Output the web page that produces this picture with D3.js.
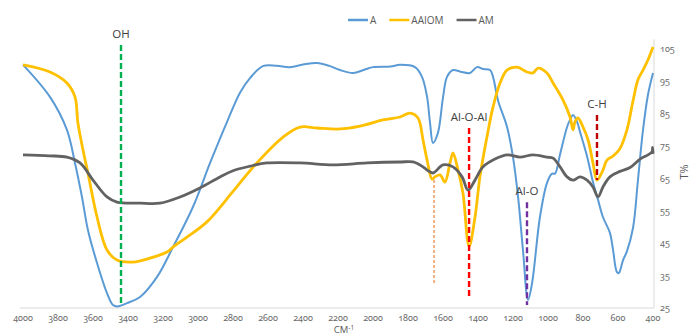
<!DOCTYPE html>
<html>
<head>
<meta charset="utf-8">
<script src="https://cdn.jsdelivr.net/npm/d3@7"></script>
<style>
  body { margin: 0; background: #fff; overflow: hidden; }
  svg { display: block; font-family: "Open Sans", "Liberation Sans", sans-serif; }
  .tick-label { fill: #6b6b6b; font-size: 9px; font-family: "Noto Sans", sans-serif; font-variant-numeric: oldstyle-nums; }
</style>
</head>
<body>
<script>
// spectra: [wavenumber, T%]
var seriesNames = ["A", "AAIOM", "AM"];
var seriesColors = ["#5B9BD5", "#FFC000", "#626262"];

var specA = [
  [4000,100.1],[3846,90.2],[3749,80.0],[3703,69.8],[3663,59.3],[3629,49.1],[3577,38.9],
  [3520,29.6],[3486,25.9],[3460,25.5],[3406,26.5],[3331,28.4],[3234,34.6],[3143,43.8],
  [3029,56.2],[2931,69.8],[2834,82.5],[2760,91.5],[2703,96.0],[2629,99.7],[2550,99.8],
  [2474,99.4],[2400,100.2],[2320,100.7],[2250,99.8],[2189,98.5],[2114,97.6],[2050,98.6],
  [2000,99.4],[1900,99.6],[1846,100.1],[1760,99.4],[1720,96.4],[1691,90.2],[1674,82.1],
  [1657,76.0],[1629,79.1],[1600,90.0],[1577,96.4],[1543,98.5],[1500,98.0],[1446,97.6],
  [1406,99.4],[1370,98.8],[1331,98.5],[1314,96.4],[1286,89.2],[1234,80.9],[1200,71.6],
  [1171,59.3],[1143,42.9],[1114,27.5],[1091,32.7],[1046,53.1],[1006,63.6],[977,66.5],
  [960,66.5],[931,72.5],[891,80.9],[874,83.1],[857,84.6],[834,82.5],[817,79.4],[777,71.9],
  [743,63.9],[714,58.4],[686,53.1],[646,48.2],[629,43.2],[606,36.1],[595,35.8],[571,39.8],
  [549,42.5],[514,49.8],[486,64.5],[457,80.0],[429,90.8],[400,97.6]
];

var specAAIOM = [
  [4000,100.1],[3846,97.9],[3749,94.5],[3703,90.2],[3686,82.1],[3657,73.8],[3629,66.7],
  [3577,53.1],[3520,42.9],[3463,39.8],[3371,39.2],[3274,40.4],[3177,42.3],[3143,43.8],
  [3063,46.9],[2949,51.6],[2800,61.0],[2674,69.2],[2514,77.8],[2417,80.9],[2320,80.6],
  [2189,80.3],[2074,81.2],[1943,83.1],[1846,84.0],[1789,85.2],[1743,83.7],[1714,76.9],
  [1691,70.7],[1663,64.8],[1646,65.5],[1617,66.1],[1589,63.9],[1560,69.8],[1543,72.9],
  [1514,67.6],[1486,60.5],[1451,44.0],[1417,53.1],[1389,65.5],[1349,77.8],[1314,87.1],
  [1274,94.5],[1234,98.5],[1177,99.4],[1120,97.9],[1086,97.6],[1057,99.1],[1006,97.6],
  [971,94.5],[914,89.2],[874,84.0],[857,80.0],[846,82.5],[829,83.7],[800,80.9],[771,76.9],
  [743,69.8],[720,64.5],[686,67.6],[663,70.7],[629,71.9],[589,74.2],[549,80.0],[514,89.0],
  [486,95.5],[457,98.5],[429,101.6],[400,105.6]
];

var specAM = [
  [4000,72.3],[3850,72.0],[3749,71.6],[3674,69.8],[3600,64.5],[3520,59.3],[3463,57.7],
  [3331,57.4],[3217,57.4],[3103,59.3],[2989,62.1],[2874,65.5],[2800,67.4],[2703,68.8],
  [2606,69.8],[2417,69.8],[2229,69.2],[2034,69.8],[1846,70.1],[1771,70.1],[1714,68.6],
  [1691,67.6],[1657,66.7],[1600,69.2],[1543,68.6],[1491,65.5],[1457,61.4],[1417,64.5],
  [1371,68.6],[1291,71.3],[1234,72.3],[1160,71.6],[1086,72.3],[1006,71.6],[971,71.3],
  [931,68.6],[891,65.5],[857,64.5],[817,65.5],[777,64.5],[743,62.4],[714,59.3],[686,62.4],
  [646,65.5],[589,67.2],[531,68.4],[474,71.0],[429,72.3],[406,73.2],[402,74.6],[400,72.6]
];

var xTicks = [4000,3800,3600,3400,3200,3000,2800,2600,2400,2200,2000,1800,1600,1400,1200,1000,800,600,400];
var yTicks = [25,35,45,55,65,75,85,95,105];

// band markers: label, wavenumber, top T%, bottom T%, colour, dash
var markLabels = ["OH", "", "Al-O-Al", "Al-O", "C-H"];
var markWaves  = [3440, 1651, 1451, 1120, 720];
var markTops   = [106.2, 64.5, 80.6, 57.7, 84.6];
var markBottoms = [26.5, 32.7, 28.4, 25.9, 64.5];
var markColors = ["#00B050", "#F4B183", "#FF0000", "#7030A0", "#C00000"];
var markDash   = ["6,3", "3,2", "6,3", "6,3", "6,3"];

var width = 691, height = 335;
var svg = d3.select("body").append("svg")
    .attr("width", width)
    .attr("height", height);

var x = d3.scaleLinear().domain([4000, 400]).range([23, 653]);
var y = d3.scaleLinear().domain([25, 105]).range([308, 49]);

// axis lines
svg.append("line")
    .attr("x1", 20).attr("x2", x(400) + 1)
    .attr("y1", y(25)).attr("y2", y(25))
    .attr("stroke", "#d9d9d9");
svg.append("line")
    .attr("x1", x(400) + 1).attr("x2", x(400) + 1)
    .attr("y1", y(108)).attr("y2", y(25))
    .attr("stroke", "#d9d9d9");

svg.selectAll(".xl")
    .data(xTicks)
    .enter().append("text")
    .attr("class", "tick-label")
    .attr("x", function(d) { return x(d); })
    .attr("y", 321)
    .attr("text-anchor", "middle")
    .text(function(d) { return d; });

svg.selectAll(".yl")
    .data(yTicks)
    .enter().append("text")
    .attr("class", "tick-label")
    .attr("x", 660)
    .attr("y", function(d) { return y(d) + 3; })
    .text(function(d) { return d; });

// axis titles
var xt = svg.append("text")
    .attr("x", x(2200) + 6)
    .attr("y", 333)
    .attr("text-anchor", "middle")
    .attr("fill", "#595959")
    .style("font-size", "9.5px")
    .text("CM");
xt.append("tspan").attr("dy", -3).style("font-size", "6.5px").text("-1");

svg.append("text")
    .attr("transform", "translate(688," + y(67) + ") rotate(-90)")
    .attr("text-anchor", "middle")
    .attr("fill", "#595959")
    .style("font-size", "11px")
    .text("T%");

// spectra
var line = d3.line()
    .x(function(d) { return x(d[0]); })
    .y(function(d) { return y(d[1]); })
    .curve(d3.curveCatmullRom);

var allSeries = [specA, specAAIOM, specAM];
var widths = [2, 2.8, 2.8];
allSeries.forEach(function(s, i) {
  svg.append("path")
      .datum(s)
      .attr("fill", "none")
      .attr("stroke", seriesColors[i])
      .attr("stroke-width", widths[i])
      .attr("stroke-linejoin", "round")
      .attr("d", line);
});

// band markers
markWaves.forEach(function(w, i) {
  svg.append("line")
      .attr("x1", x(w)).attr("x2", x(w))
      .attr("y1", y(markTops[i])).attr("y2", y(markBottoms[i]))
      .attr("stroke", markColors[i])
      .attr("stroke-width", i == 1 ? 2 : 2.4)
      .attr("stroke-dasharray", markDash[i]);
  if (markLabels[i]) {
    svg.append("text")
        .attr("x", x(w))
        .attr("y", y(markTops[i]) - 7)
        .attr("text-anchor", "middle")
        .attr("fill", "#404040")
        .style("font-size", "11.5px")
        .text(markLabels[i]);
  }
});

// legend
var legend = svg.append("g").attr("transform", "translate(348,20)");
var lx = 0;
seriesNames.forEach(function(name, i) {
  legend.append("line")
      .attr("x1", lx).attr("x2", lx + 20)
      .attr("y1", 0).attr("y2", 0)
      .attr("stroke", seriesColors[i])
      .attr("stroke-width", 2.5);
  var t = legend.append("text")
      .attr("x", lx + 22)
      .attr("y", 3.5)
      .attr("fill", "#595959")
      .style("font-size", "10px")
      .text(name);
  lx += 22 + t.node().getComputedTextLength() + 13;
});
</script>
</body>
</html>
